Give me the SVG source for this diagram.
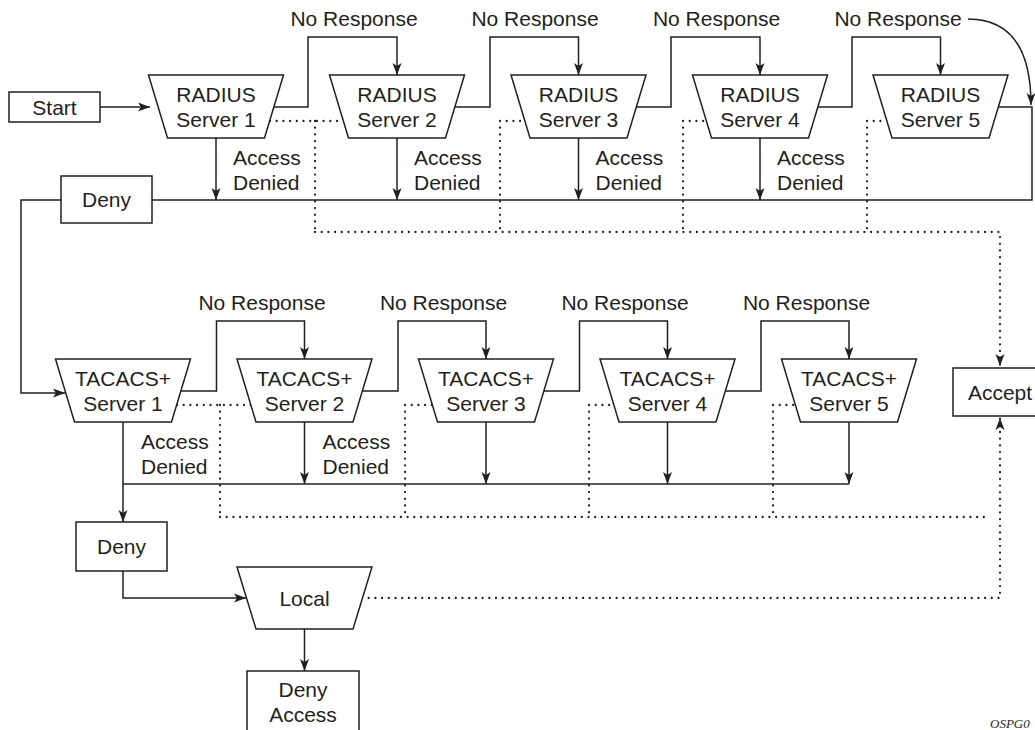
<svg xmlns="http://www.w3.org/2000/svg" width="1035" height="730" viewBox="0 0 1035 730">
<style>
.ln{fill:none;stroke:#231f20;stroke-width:1.5}
.dot{fill:none;stroke:#231f20;stroke-width:2.3;stroke-dasharray:0 6.7;stroke-linecap:round}
.sh{fill:#fff;stroke:#231f20;stroke-width:1.5}
.t{font-family:"Liberation Sans",Arial,sans-serif;font-size:21px;fill:#231f20}
.m{text-anchor:middle}
.id{font-family:"Liberation Serif","Times New Roman",serif;font-style:italic;font-size:13px;fill:#231f20}
</style>
<defs>
<marker id="ah" markerUnits="userSpaceOnUse" markerWidth="13" markerHeight="9" refX="12" refY="4.5" orient="auto" overflow="visible">
<path d="M0,0 L12,4.5 L0,9 L3,4.5 Z" fill="#231f20" stroke="none"/>
</marker>
</defs>

<g id="connectors">
<path class="ln" d="M100,107 H150" marker-end="url(#ah)"/>
<path class="ln" d="M274,107 H308 V37 H397 V75" marker-end="url(#ah)"/>
<path class="ln" d="M455,107 H490 V37 H578.5 V75" marker-end="url(#ah)"/>
<path class="ln" d="M636.5,107 H671 V37 H760 V75" marker-end="url(#ah)"/>
<path class="ln" d="M818,107 H852 V37 H940.5 V75" marker-end="url(#ah)"/>
<path class="ln" d="M998.5,107 H1032 V200 H152"/>
<path class="ln" d="M968,19 C1008,19 1031,45 1031,105" marker-end="url(#ah)"/>
<path class="ln" d="M216,138 V200" marker-end="url(#ah)"/>
<path class="ln" d="M397,138 V200" marker-end="url(#ah)"/>
<path class="ln" d="M578.5,138 V200" marker-end="url(#ah)"/>
<path class="ln" d="M760,138 V200" marker-end="url(#ah)"/>
<path class="ln" d="M61,200 H21 V393 H65" marker-end="url(#ah)"/>
<path class="ln" d="M181,391 H216.5 V321 H304.5 V359" marker-end="url(#ah)"/>
<path class="ln" d="M362.5,391 H398 V321 H486 V359" marker-end="url(#ah)"/>
<path class="ln" d="M544,391 H579.5 V321 H667.5 V359" marker-end="url(#ah)"/>
<path class="ln" d="M725.5,391 H761 V321 H849 V359" marker-end="url(#ah)"/>
<path class="ln" d="M123,422 V522" marker-end="url(#ah)"/>
<path class="ln" d="M304.5,422 V484" marker-end="url(#ah)"/>
<path class="ln" d="M486,422 V484" marker-end="url(#ah)"/>
<path class="ln" d="M667.5,422 V484" marker-end="url(#ah)"/>
<path class="ln" d="M849,422 V484" marker-end="url(#ah)"/>
<path class="ln" d="M123,484 H849"/>
<path class="ln" d="M123,571 V598 H246" marker-end="url(#ah)"/>
<path class="ln" d="M304.5,629 V671" marker-end="url(#ah)"/>
<path class="dot" d="M270,121 H343 M315,121 V232 M500,121 H525 M500,121 V232 M683,121 H706 M683,121 V232 M867,121 H887 M867,121 V232"/>
<path class="dot" d="M315,232 H1000 V366" marker-end="url(#ah)"/>
<path class="dot" d="M177,405 H251 M220,405 V517 M405,405 H432 M405,405 V517 M589,405 H614 M589,405 V517 M773,405 H795 M773,405 V517 M220,517 H985"/>
<path class="dot" d="M362,598 H1000 V418" marker-end="url(#ah)"/>
</g>

<g id="labels">
<text class="t m" x="354" y="26">No Response</text>
<text class="t m" x="535" y="26">No Response</text>
<text class="t m" x="716.5" y="26">No Response</text>
<text class="t m" x="898" y="26">No Response</text>
<text class="t" x="233" y="165">Access</text><text class="t" x="233" y="190">Denied</text>
<text class="t" x="414" y="165">Access</text><text class="t" x="414" y="190">Denied</text>
<text class="t" x="595.5" y="165">Access</text><text class="t" x="595.5" y="190">Denied</text>
<text class="t" x="777" y="165">Access</text><text class="t" x="777" y="190">Denied</text>
<text class="t m" x="262" y="310">No Response</text>
<text class="t m" x="443.5" y="310">No Response</text>
<text class="t m" x="625" y="310">No Response</text>
<text class="t m" x="806.5" y="310">No Response</text>
<text class="t" x="141" y="449">Access</text><text class="t" x="141" y="474">Denied</text>
<text class="t" x="322.5" y="449">Access</text><text class="t" x="322.5" y="474">Denied</text>
<text class="id" x="990" y="728">OSPG0</text>
</g>

<g id="start"><rect class="sh" x="9" y="92" width="91" height="30"/><text class="t m" x="54.5" y="114.5">Start</text></g>

<g id="radius1"><polygon class="sh" points="148.5,75 283.5,75 264.5,138 167.5,138"/><text class="t m" x="216" y="102">RADIUS</text><text class="t m" x="216" y="127">Server 1</text></g>
<g id="radius2"><polygon class="sh" points="329.5,75 464.5,75 445.5,138 348.5,138"/><text class="t m" x="397" y="102">RADIUS</text><text class="t m" x="397" y="127">Server 2</text></g>
<g id="radius3"><polygon class="sh" points="511,75 646,75 627,138 530,138"/><text class="t m" x="578.5" y="102">RADIUS</text><text class="t m" x="578.5" y="127">Server 3</text></g>
<g id="radius4"><polygon class="sh" points="692.5,75 827.5,75 808.5,138 711.5,138"/><text class="t m" x="760" y="102">RADIUS</text><text class="t m" x="760" y="127">Server 4</text></g>
<g id="radius5"><polygon class="sh" points="873,75 1008,75 989,138 892,138"/><text class="t m" x="940.5" y="102">RADIUS</text><text class="t m" x="940.5" y="127">Server 5</text></g>

<g id="deny1"><rect class="sh" x="61" y="176" width="91" height="47"/><text class="t m" x="106.5" y="207">Deny</text></g>

<g id="tacacs1"><polygon class="sh" points="55.5,359 190.5,359 171.5,422 74.5,422"/><text class="t m" x="123" y="386">TACACS+</text><text class="t m" x="123" y="411">Server 1</text></g>
<g id="tacacs2"><polygon class="sh" points="237,359 372,359 353,422 256,422"/><text class="t m" x="304.5" y="386">TACACS+</text><text class="t m" x="304.5" y="411">Server 2</text></g>
<g id="tacacs3"><polygon class="sh" points="418.5,359 553.5,359 534.5,422 437.5,422"/><text class="t m" x="486" y="386">TACACS+</text><text class="t m" x="486" y="411">Server 3</text></g>
<g id="tacacs4"><polygon class="sh" points="600,359 735,359 716,422 619,422"/><text class="t m" x="667.5" y="386">TACACS+</text><text class="t m" x="667.5" y="411">Server 4</text></g>
<g id="tacacs5"><polygon class="sh" points="781.5,359 916.5,359 897.5,422 800.5,422"/><text class="t m" x="849" y="386">TACACS+</text><text class="t m" x="849" y="411">Server 5</text></g>

<g id="accept"><rect class="sh" x="953" y="368" width="95" height="48"/><text class="t m" x="1000" y="400">Accept</text></g>

<g id="deny2"><rect class="sh" x="76" y="522" width="91" height="49"/><text class="t m" x="121.5" y="554">Deny</text></g>

<g id="local"><polygon class="sh" points="237,567 372,567 353,629 256,629"/><text class="t m" x="304.5" y="606">Local</text></g>

<g id="denyaccess"><rect class="sh" x="247" y="671" width="112" height="80"/><text class="t m" x="303" y="697">Deny</text><text class="t m" x="303" y="722">Access</text></g>
</svg>
